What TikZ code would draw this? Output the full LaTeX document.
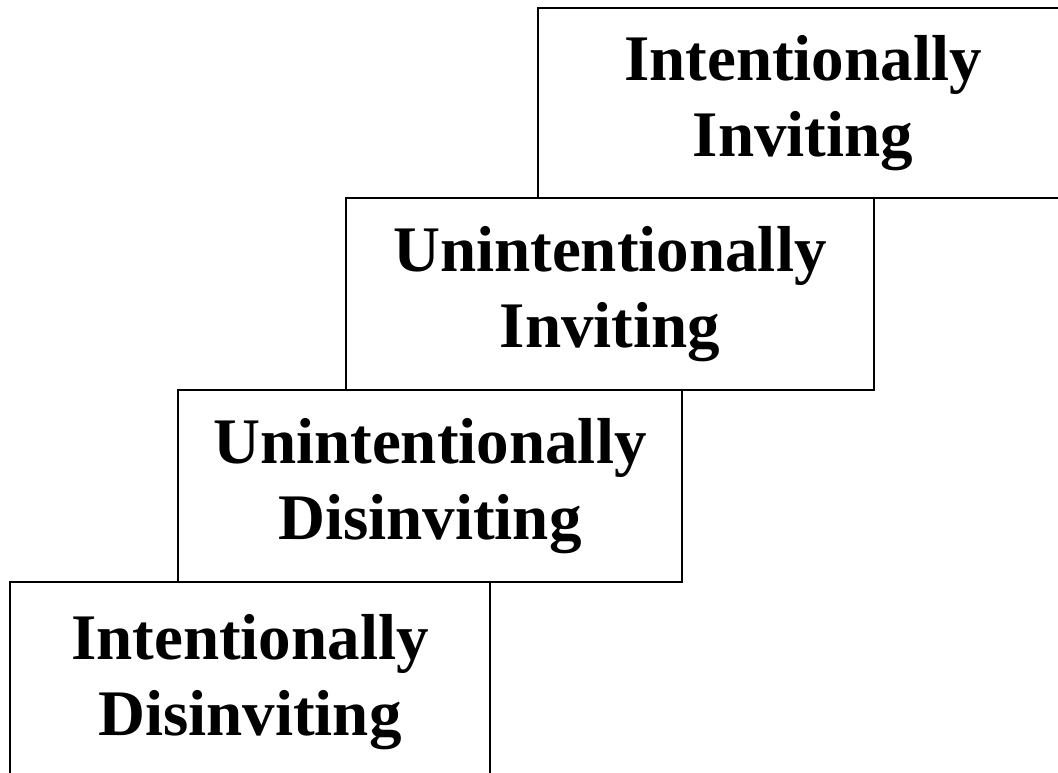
\documentclass[tikz,border=0pt]{standalone}
\usepackage{fontspec}
\setmainfont{Liberation Serif}
\begin{document}
\begin{tikzpicture}[x=1pt,y=-1pt,
  stair/.style={draw=black, line width=1.8pt, fill=white, rectangle, inner sep=0pt,
    align=center, font=\bfseries\fontsize{65}{76}\selectfont, anchor=north west}]
\useasboundingbox (0,0) rectangle (1058,773);
\clip (0,0) rectangle (1058,773);
\fill[white] (0,0) rectangle (1058,773);
\node[stair, minimum width=530pt, minimum height=190pt] (ii) at (537,7) {Intentionally\\Inviting};
\node[stair, minimum width=528pt, minimum height=192pt] (ui) at (345,197) {Unintentionally\\Inviting};
\node[stair, minimum width=504pt, minimum height=192pt] (ud) at (177,389) {Unintentionally\\Disinviting};
\node[stair, minimum width=480pt, minimum height=200pt] (id) at (9,581) {Intentionally\\Disinviting};
\end{tikzpicture}
\end{document}
